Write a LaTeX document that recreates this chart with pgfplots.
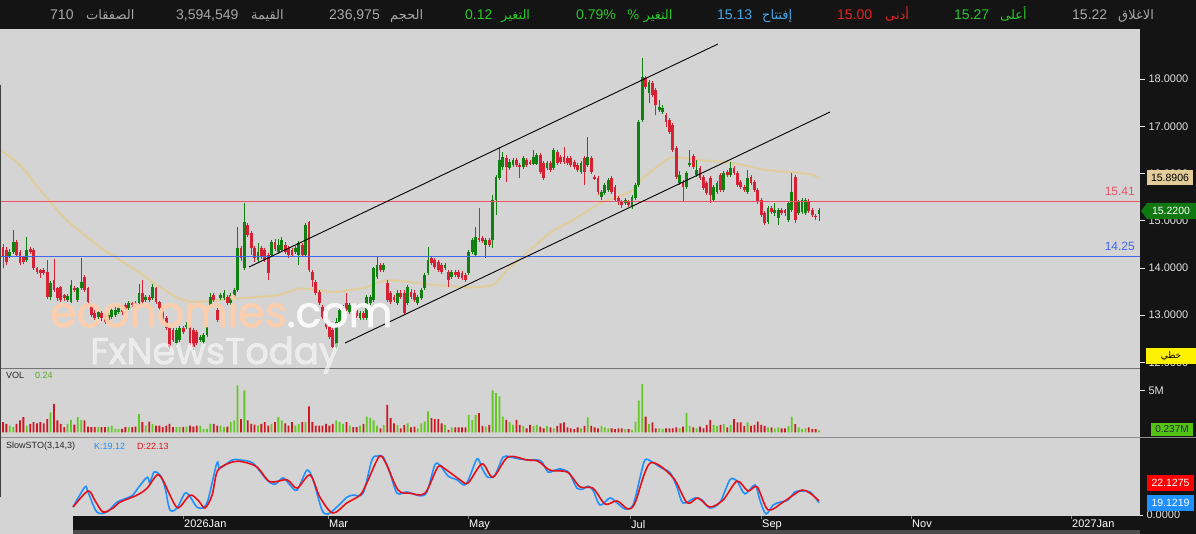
\documentclass[border=0pt]{standalone}
\usepackage{fontspec}
\usepackage{pgfplots}
\usepackage{pgfplotstable}
\pgfplotsset{compat=1.18}
\setmainfont{Liberation Sans}
\newfontfamily\arabicfont[Script=Arabic]{DejaVu Sans}
\newfontfamily\wmfont[FakeBold=1.5]{Poppins}
\TeXXeTstate=1
\definecolor{panel}{RGB}{212,212,212}
\definecolor{cgreen}{RGB}{16,128,16}
\definecolor{cred}{RGB}{214,32,52}
\definecolor{vgreen}{RGB}{100,200,36}
\definecolor{vred}{RGB}{204,24,32}
\definecolor{ma}{RGB}{226,204,150}
\definecolor{levelred}{RGB}{240,80,100}
\definecolor{hblue}{RGB}{64,104,236}
\definecolor{kblue}{RGB}{30,144,255}
\definecolor{dred}{RGB}{230,16,24}
\definecolor{tgray}{RGB}{168,168,168}
\definecolor{tgreen}{RGB}{40,200,40}
\definecolor{tblue}{RGB}{70,168,232}
\definecolor{tred}{RGB}{226,36,36}
\definecolor{axtxt}{RGB}{226,226,226}
\definecolor{peach}{RGB}{255,206,172}
\definecolor{badgetan}{RGB}{226,204,154}
\definecolor{badgegreen}{RGB}{16,120,16}
\definecolor{volbadge}{RGB}{84,196,20}

\pgfplotstableread{
i o h l c v
0 14.44 14.50 13.99 14.23 1.23
1 14.38 14.45 14.05 14.12 1.03
2 14.25 14.40 14.20 14.33 0.83
3 14.34 14.80 14.30 14.55 0.63
4 14.55 14.60 14.22 14.27 1.03
5 14.33 14.38 14.05 14.10 1.43
6 14.23 14.26 14.08 14.12 1.83
7 14.17 14.65 14.12 14.38 0.83
8 14.40 14.45 14.30 14.34 1.03
9 14.38 14.42 13.95 13.99 1.23
10 13.99 14.02 13.86 13.91 1.10
11 13.95 13.98 13.78 13.89 1.23
12 13.95 13.99 13.84 13.89 1.10
13 13.91 14.17 13.34 13.38 1.60
14 13.38 13.72 13.32 13.68 2.40
15 13.74 14.19 13.49 13.53 3.40
16 13.57 13.60 13.30 13.36 1.43
17 13.59 13.62 13.28 13.32 1.03
18 13.42 13.45 13.30 13.36 0.63
19 13.32 13.44 13.28 13.40 1.03
20 13.28 13.74 13.25 13.64 1.50
21 13.57 13.62 13.48 13.53 0.95
22 13.32 13.60 13.28 13.57 1.83
23 13.57 14.21 13.53 13.70 1.50
24 13.80 13.85 13.48 13.53 1.43
25 13.57 13.60 13.22 13.28 0.70
26 13.21 13.25 12.95 13.00 0.63
27 13.04 13.10 12.90 12.94 0.63
28 12.96 13.10 12.92 13.06 0.63
29 13.04 13.08 12.88 12.94 0.63
30 13.00 13.04 12.80 12.85 0.63
31 12.85 13.05 12.82 13.00 0.70
32 12.96 13.15 12.92 13.11 0.83
33 13.00 13.18 12.96 13.11 0.44
34 13.06 13.20 13.02 13.15 0.44
35 13.15 13.20 13.00 13.06 0.44
36 13.21 13.25 13.06 13.11 0.63
37 13.15 13.30 13.10 13.25 0.63
38 13.25 13.28 13.17 13.21 0.63
39 13.25 13.30 13.17 13.21 0.70
40 13.25 13.66 13.21 13.47 2.20
41 13.47 13.74 13.24 13.28 1.23
42 13.32 13.42 13.28 13.38 0.83
43 13.38 13.42 13.28 13.32 1.30
44 13.36 13.66 13.32 13.59 1.03
45 13.57 13.60 13.24 13.28 0.83
46 13.28 13.30 13.10 13.15 0.83
47 13.15 13.18 12.85 12.89 0.63
48 12.94 12.98 12.68 12.72 0.83
49 12.72 12.76 12.28 12.32 1.03
50 12.68 12.72 12.42 12.47 0.63
51 12.41 12.72 12.36 12.68 0.63
52 12.47 12.76 12.42 12.72 0.63
53 12.72 12.76 12.60 12.64 0.63
54 12.74 12.85 12.70 12.79 0.70
55 12.72 12.76 12.36 12.41 0.83
56 12.68 12.72 12.26 12.32 0.70
57 12.64 12.68 12.36 12.41 0.83
58 12.47 12.58 12.42 12.53 0.83
59 12.43 12.62 12.38 12.58 0.44
60 12.58 12.79 12.54 12.75 0.44
61 13.21 13.47 13.17 13.38 1.03
62 13.42 13.47 13.28 13.32 1.03
63 13.11 13.15 12.85 12.89 0.83
64 13.36 13.47 13.32 13.42 0.83
65 13.36 13.52 13.32 13.47 0.63
66 13.38 13.42 13.21 13.25 0.70
67 13.25 13.47 13.21 13.42 1.23
68 13.38 13.57 13.34 13.53 1.43
69 13.53 14.86 13.49 14.42 5.60
70 14.42 14.46 14.15 14.21 1.60
71 13.99 15.37 13.95 14.97 5.00
72 14.91 14.95 14.65 14.69 1.43
73 14.74 14.78 14.27 14.42 1.03
74 14.42 14.46 14.12 14.21 0.95
75 14.17 14.52 14.13 14.34 0.83
76 14.42 14.46 14.19 14.23 1.03
77 14.38 14.42 14.12 14.17 1.23
78 14.27 14.31 13.74 13.89 0.83
79 14.27 14.60 14.23 14.55 1.03
80 14.55 14.62 14.36 14.40 1.23
81 14.34 14.62 14.30 14.48 1.83
82 14.38 14.66 14.34 14.59 1.43
83 14.48 14.55 14.30 14.34 1.10
84 14.42 14.46 14.20 14.27 0.83
85 14.38 14.42 14.23 14.27 1.23
86 14.34 14.46 14.30 14.42 0.83
87 14.27 14.57 14.06 14.53 1.03
88 14.48 14.52 14.23 14.27 1.23
89 14.27 14.95 14.23 14.91 1.23
90 14.97 15.00 13.91 13.95 3.10
91 13.91 13.95 13.59 13.74 1.23
92 13.70 13.74 13.42 13.47 0.83
93 13.49 13.53 13.21 13.25 0.83
94 13.17 13.21 12.92 12.96 0.83
95 12.89 12.94 12.70 12.75 1.03
96 12.75 12.79 12.49 12.53 0.83
97 12.68 12.72 12.30 12.32 1.03
98 12.32 12.94 12.28 12.85 1.43
99 12.85 13.15 12.80 13.11 1.23
100 13.06 13.21 13.02 13.17 1.03
101 13.25 13.47 13.06 13.11 1.23
102 13.06 13.25 13.02 13.21 0.83
103 13.21 13.25 13.06 13.11 0.63
104 13.11 13.15 12.94 12.98 0.63
105 12.94 13.08 12.90 13.04 0.83
106 13.04 13.08 12.90 12.94 1.03
107 12.94 13.42 12.90 13.38 1.90
108 13.25 13.42 13.21 13.38 1.75
109 13.32 14.02 13.28 13.99 1.43
110 13.80 14.23 13.76 14.06 0.83
111 14.06 14.10 13.91 13.95 0.50
112 13.95 14.10 13.91 14.06 0.90
113 13.68 13.74 13.28 13.32 3.30
114 13.47 13.50 13.24 13.28 1.70
115 13.38 13.42 13.28 13.32 1.10
116 13.25 13.52 13.21 13.47 0.90
117 13.47 13.52 13.34 13.38 0.50
118 13.47 13.52 13.00 13.04 0.90
119 13.25 13.64 13.21 13.59 1.10
120 13.49 13.55 13.34 13.38 0.60
121 13.47 13.52 13.28 13.32 0.70
122 13.25 13.42 13.21 13.38 0.50
123 13.36 13.57 13.32 13.53 1.10
124 13.57 13.89 13.53 13.85 1.30
125 13.89 14.44 13.85 14.17 2.50
126 14.21 14.25 14.06 14.10 1.70
127 14.17 14.21 13.98 14.02 1.60
128 14.12 14.17 13.91 13.95 1.60
129 14.06 14.10 13.87 13.91 1.10
130 13.99 14.10 13.95 14.06 0.90
131 13.91 13.95 13.59 13.74 0.30
132 13.80 13.95 13.76 13.91 0.60
133 13.91 13.95 13.80 13.85 0.60
134 13.91 13.95 13.76 13.80 0.60
135 13.89 13.93 13.74 13.78 0.60
136 13.85 13.89 13.70 13.74 0.60
137 13.89 14.38 13.85 14.34 2.10
138 14.34 14.63 14.30 14.59 1.50
139 14.27 14.86 14.23 14.65 2.10
140 14.63 15.27 14.55 14.59 2.30
141 14.63 14.67 14.53 14.57 0.80
142 14.48 14.63 14.21 14.59 0.70
143 14.59 14.63 14.44 14.48 0.90
144 14.59 15.54 14.42 15.44 5.00
145 15.44 15.97 15.12 15.92 4.70
146 15.90 16.56 15.86 16.28 4.30
147 16.14 16.45 16.08 16.35 1.90
148 16.33 16.40 15.82 16.14 1.50
149 16.12 16.30 16.07 16.24 1.20
150 16.18 16.33 16.14 16.28 0.90
151 16.28 16.33 16.14 16.18 1.50
152 16.18 16.22 15.90 16.14 0.90
153 16.14 16.37 16.10 16.33 0.80
154 16.28 16.33 16.14 16.18 0.50
155 16.24 16.28 16.17 16.21 0.90
156 16.21 16.50 16.17 16.35 0.80
157 16.21 16.43 16.17 16.39 0.90
158 16.39 16.43 15.99 16.03 0.70
159 16.22 16.26 15.86 15.90 0.50
160 16.12 16.26 16.08 16.22 0.80
161 16.22 16.26 16.03 16.07 0.60
162 16.12 16.54 16.08 16.50 0.50
163 16.45 16.49 16.18 16.22 0.80
164 16.35 16.40 16.20 16.24 1.10
165 16.35 16.56 16.20 16.24 1.20
166 16.33 16.37 16.18 16.22 0.60
167 16.33 16.37 16.14 16.18 0.50
168 16.24 16.28 16.10 16.14 0.40
169 16.18 16.22 16.03 16.07 0.60
170 16.03 16.26 15.99 16.22 0.50
171 16.33 16.37 15.75 16.03 0.80
172 16.18 16.77 16.14 16.35 1.80
173 16.33 16.37 15.99 16.03 0.80
174 15.92 15.97 15.86 15.90 0.60
175 15.90 15.94 15.54 15.61 0.50
176 15.50 15.65 15.44 15.61 0.80
177 15.59 15.80 15.55 15.75 0.60
178 15.65 15.90 15.61 15.86 0.50
179 15.90 15.94 15.57 15.61 0.50
180 15.71 15.75 15.40 15.44 0.40
181 15.48 15.52 15.33 15.40 0.50
182 15.40 15.44 15.27 15.33 0.50
183 15.37 15.48 15.33 15.44 0.40
184 15.40 15.44 15.29 15.33 0.40
185 15.29 15.54 15.24 15.50 0.30
186 15.48 15.80 15.44 15.75 1.30
187 15.75 17.13 15.71 17.09 3.80
188 17.13 18.44 17.09 18.04 5.80
189 18.02 18.06 17.78 17.83 1.90
190 17.70 17.98 17.50 17.94 1.00
191 17.92 17.96 17.62 17.66 1.20
192 17.77 17.81 17.24 17.45 0.50
193 17.34 17.56 17.30 17.41 0.50
194 17.30 17.45 17.26 17.39 0.40
195 17.24 17.28 16.98 17.09 0.50
196 17.13 17.17 16.84 16.88 0.50
197 17.03 17.07 16.46 16.50 0.50
198 16.54 16.58 15.88 15.92 0.60
199 15.80 16.05 15.75 15.97 0.50
200 15.82 15.86 15.40 15.71 0.70
201 15.71 16.05 15.67 16.01 2.30
202 16.18 16.50 16.14 16.22 0.80
203 16.37 16.41 16.10 16.14 0.60
204 15.97 16.28 15.93 16.07 0.50
205 16.11 16.15 15.86 15.90 0.70
206 15.92 15.96 15.65 15.69 0.50
207 15.80 15.84 15.55 15.59 0.90
208 15.90 15.94 15.37 15.54 1.50
209 15.44 15.75 15.40 15.71 0.90
210 15.61 15.84 15.57 15.80 0.80
211 15.97 16.01 15.61 15.65 0.90
212 15.65 16.05 15.61 16.01 1.00
213 16.03 16.07 15.93 15.97 0.60
214 15.97 16.24 15.93 16.12 0.90
215 16.12 16.16 15.97 16.01 1.60
216 16.01 16.05 15.71 15.75 1.20
217 15.82 15.86 15.67 15.71 1.20
218 15.71 15.75 15.61 15.65 0.80
219 15.61 16.07 15.57 15.90 1.20
220 15.92 15.96 15.76 15.80 0.80
221 15.82 15.86 15.61 15.65 0.90
222 15.65 15.69 15.36 15.40 1.30
223 15.44 15.48 15.08 15.12 0.90
224 15.16 15.20 14.91 14.95 0.80
225 14.97 15.31 14.93 15.27 0.60
226 15.27 15.31 15.14 15.18 0.60
227 15.16 15.37 15.10 15.22 0.50
228 15.05 15.27 14.91 15.22 0.60
229 15.22 15.27 15.12 15.16 0.50
230 15.22 15.25 15.10 15.16 0.50
231 15.01 15.41 14.97 15.37 0.80
232 15.22 16.01 15.18 15.61 1.90
233 15.92 15.96 14.95 15.01 1.00
234 15.16 15.44 15.12 15.40 0.60
235 15.18 15.48 15.14 15.44 0.40
236 15.16 15.48 15.12 15.44 0.50
237 15.42 15.46 15.16 15.20 0.60
238 15.22 15.27 15.08 15.12 0.40
239 15.10 15.14 15.01 15.08 0.40
240 15.13 15.27 15.00 15.22 0.24
}\ohlc

\begin{document}
\begin{tikzpicture}[x=1pt,y=1pt]
% backgrounds
\fill[panel] (0,0) rectangle (1196,534);
\fill[black!92] (0,505) rectangle (1196,534);
\fill[black!92] (1140,0) rectangle (1196,505);
\fill[black!92] (73,4) rectangle (1140,18);
\fill[black!70] (73,0) rectangle (1140,4);

% ---------------- price panel ----------------
\begin{scope}[shift={(0pt,166pt)}]
\begin{axis}[at={(0pt,0pt)}, anchor=south west, scale only axis,
  width=1140pt, height=339pt,
  xmin=-0.882, xmax=334.41, ymin=11.878, ymax=19.06,
  axis line style={draw=none}, xtick=\empty,
  ytick={12,13,14,15,16,17,18},
  yticklabels={12.0000,13.0000,14.0000,15.0000,16.0000,17.0000,18.0000},
  ytick pos=right, yticklabel pos=right,
  tick align=outside, major tick length=5pt,
  ytick style={draw=axtxt!80, line width=0.6pt},
  yticklabel style={text=axtxt, font=\fontsize{11}{12}\selectfont}]
\addplot[ma, line width=2.2pt, opacity=0.85, smooth, tension=0.5, forget plot] coordinates {
(-0.88,16.50) (5,16.18) (10.9,15.65) (18.8,15.01) (28.5,14.44) (33.5,14.21) (40.3,13.89)
(46.2,13.59) (51.2,13.38) (55.9,13.28) (66.8,13.34) (80.6,13.42) (87.4,13.56) (97,13.49)
(102,13.53) (107,13.59) (111.8,13.72) (116.8,13.72) (126.5,13.64) (136.5,13.59) (144.1,13.64)
(148.2,13.95) (154.1,14.31) (160.9,14.74) (167.6,15.01) (175.6,15.37) (180.6,15.50)
(185.3,15.65) (188.2,15.90) (192.4,16.14) (196.2,16.33) (200,16.33) (205,16.28) (214.7,16.22)
(224.7,16.07) (234.4,16.01) (238.2,15.97) (240,15.89)};
% wicks
\addplot[draw=none, mark=none, forget plot,
  error bars/.cd, y dir=both, y explicit, error mark=none,
  error bar style={draw=cgreen, line width=0.9pt}]
  table[x=i, y expr={\thisrow{c}<\thisrow{o} ? nan : 0.5*(\thisrow{h}+\thisrow{l})},
        y error expr={0.5*(\thisrow{h}-\thisrow{l})}] {\ohlc};
\addplot[draw=none, mark=none, forget plot,
  error bars/.cd, y dir=both, y explicit, error mark=none,
  error bar style={draw=cred, line width=0.9pt}]
  table[x=i, y expr={\thisrow{c}<\thisrow{o} ? 0.5*(\thisrow{h}+\thisrow{l}) : nan},
        y error expr={0.5*(\thisrow{h}-\thisrow{l})}] {\ohlc};
% bodies
\addplot[draw=none, mark=none, forget plot,
  error bars/.cd, y dir=both, y explicit, error mark=none,
  error bar style={draw=cgreen, line width=2.8pt}]
  table[x=i, y expr={\thisrow{c}<\thisrow{o} ? nan : 0.5*(\thisrow{o}+\thisrow{c})},
        y error expr={max(0.5*abs(\thisrow{c}-\thisrow{o}),0.012)}] {\ohlc};
\addplot[draw=none, mark=none, forget plot,
  error bars/.cd, y dir=both, y explicit, error mark=none,
  error bar style={draw=cred, line width=2.8pt}]
  table[x=i, y expr={\thisrow{c}<\thisrow{o} ? 0.5*(\thisrow{o}+\thisrow{c}) : nan},
        y error expr={max(0.5*abs(\thisrow{c}-\thisrow{o}),0.012)}] {\ohlc};
% level lines
\addplot[draw=hblue, line width=1pt, mark=none, forget plot] coordinates {(-1,14.25) (335,14.25)};
\addplot[draw=levelred, line width=1.5pt, mark=none, forget plot] coordinates {(-1,15.41) (335,15.41)};
% channel
\addplot[black, line width=0.9pt, forget plot] coordinates {(72.35,14.017) (210.29,18.742)};
\addplot[black, line width=0.9pt, forget plot] coordinates {(100.59,12.407) (243.24,17.301)};
\end{axis}
\end{scope}

% ---------------- volume panel ----------------
\begin{scope}[shift={(0pt,97pt)}]
\begin{axis}[at={(0pt,0pt)}, anchor=south west, scale only axis,
  width=1140pt, height=69pt,
  xmin=-0.882, xmax=334.41, ymin=-0.536, ymax=7.68,
  axis line style={draw=none}, xtick=\empty,
  ytick={5}, yticklabels={5M},
  ytick pos=right, yticklabel pos=right,
  tick align=outside, major tick length=5pt,
  ytick style={draw=axtxt!80, line width=0.6pt},
  yticklabel style={text=axtxt, font=\fontsize{11}{12}\selectfont}]
\addplot[ybar, bar width=1.8pt, bar shift=0pt, fill=vgreen, draw=none, forget plot]
  table[x=i, y expr={\thisrow{c}<\thisrow{o} ? nan : \thisrow{v}}] {\ohlc};
\addplot[ybar, bar width=1.8pt, bar shift=0pt, fill=vred, draw=none, forget plot]
  table[x=i, y expr={\thisrow{c}<\thisrow{o} ? \thisrow{v} : nan}] {\ohlc};
\end{axis}
\end{scope}

% ---------------- stochastic panel ----------------
\begin{scope}[shift={(0pt,18pt)}]
\begin{axis}[at={(0pt,0pt)}, anchor=south west, scale only axis,
  width=1140pt, height=79pt,
  xmin=-0.882, xmax=334.41, ymin=-1.5625, ymax=121.875,
  axis line style={draw=none},
  xtick={52.94,95.59,136.76,184.41,222.94,267.06,314.12},
  xticklabels={2026Jan,Mar,May,Jul,Sep,Nov,2027Jan},
  xtick pos=left,
  xticklabel style={anchor=north west, text=white, inner sep=1pt, font=\fontsize{11}{12}\selectfont},
  xtick style={draw=gray, line width=0.6pt},
  ytick={0}, yticklabels={0.0000},
  ytick pos=right, yticklabel pos=right,
  tick align=outside, major tick length=3pt,
  ytick style={draw=axtxt!80, line width=0.6pt},
  yticklabel style={text=axtxt, font=\fontsize{11}{12}\selectfont}]
\addplot[kblue, line width=1.6pt, smooth, tension=0.5] coordinates {
(20.6,12.5) (24.1,43.8) (25,36) (27.6,4.7) (30.6,4.7) (33.5,20) (36.5,26.6) (38.2,31) (39.7,42)
(42.4,59) (43.2,50) (44.4,67) (46.2,62.5) (47.6,44) (49.1,8) (51.2,11) (53.5,34) (55,28.6)
(57,12.5) (58.8,11) (60.3,23.4) (62.9,81) (63.8,73) (67.4,86) (69.7,86) (73.5,81) (77.6,55)
(80,48) (82.4,58) (84.4,47) (86.5,39) (89.4,70) (91.2,55) (93.8,8) (95.6,1.6) (98.2,12.5)
(101.2,28) (103,31) (105.9,34) (108.5,86) (110,92) (111.8,91) (113.8,66) (115.9,34) (118.8,36)
(122.6,30) (124.7,36) (127,78) (128.5,78) (130.9,61) (133.5,55) (136.2,48) (139.4,87.5)
(140.9,73) (142.6,59) (144.7,62.5) (147.1,90.6) (149.1,90.6) (152,87.5) (155,86) (157,86)
(158.5,83) (160.3,67) (161.8,69) (163.8,72) (166.5,66) (168.8,42) (170.6,40.6) (172,45)
(173.5,39) (175.6,15.6) (178.5,26.6) (180.6,18.8) (183,9.4) (185.3,15.6) (187.4,59) (188.8,86)
(190.9,83) (193.2,75) (196.2,66) (198.2,44) (200,18.8) (203.5,26.6) (205.6,23.4) (207.9,11)
(210.9,20) (213.8,55) (215.9,53) (218.2,33) (221.2,47) (222.6,23.4) (224.4,1.6) (226.5,15.6)
(228.5,20) (230.9,23.4) (232.9,36) (235.3,37.5) (237.4,36) (240,19.12)};
\addplot[dred, line width=1.6pt, smooth, tension=0.5] coordinates {
(20.6,12.5) (25,37.5) (27,23) (29.4,4.7) (32.4,11) (34.4,20) (39.4,31) (42.4,42) (45.3,62.5)
(47,55) (49.1,31) (51.5,11) (55,31) (57.4,23) (59.4,11) (61.5,31) (63.2,70) (67.6,83) (70.6,83)
(74.7,75) (78.5,52) (83.5,55) (86.5,42) (90.3,62.5) (93.2,28) (97,3) (101.2,19) (105,31)
(107,50) (110.6,91) (112.6,81) (116.2,39) (119.7,34) (124.1,34) (127.9,75) (130,72) (134.4,55)
(136.8,50) (140.9,80) (144.1,59) (148.5,90.6) (154.1,86) (157.4,84) (160.9,70) (166,67)
(169.7,44) (173.5,42) (177.1,17) (180.6,22) (183.8,9.4) (185.9,19) (190.3,81) (197,59)
(201.2,19) (204.4,26.6) (207.9,12.5) (211.8,23.4) (215.9,53) (219.1,37.5) (221.8,44) (225,8)
(229.4,20) (232.4,31) (235,39) (237.4,34) (240,22.13)};
\end{axis}
\end{scope}

% separators and borders
\draw[black!55, line width=0.8pt] (0,166) -- (1140,166);
\draw[black!45, line width=0.8pt] (0,96.5) -- (1196,96.5);
\draw[black!75, line width=0.8pt] (0.5,449) -- (0.5,37);

% watermark
\node[anchor=base west, inner sep=0pt, text=peach, text opacity=0.95,
  font=\wmfont\fontsize{42.5}{50}\selectfont] at (50,207) {economies\textcolor{white!97!gray}{.com}};
\node[anchor=base west, inner sep=0pt, text=white, text opacity=0.55,
  font=\wmfont\fontsize{37}{40}\selectfont] at (90,170) {FxNewsToday};

% level labels
\node[anchor=east, inner sep=0pt, text=levelred, font=\fontsize{12}{14}\selectfont] at (1135,343) {15.41};
\node[anchor=east, inner sep=0pt, text=hblue, font=\fontsize{12}{14}\selectfont] at (1135,288) {14.25};

% panel titles
\begin{scope}[every node/.style={anchor=west, inner sep=0pt, font=\fontsize{9}{10}\selectfont}]
\node[text=black!85] at (6,159) {VOL};
\node[text=vgreen!85!black] at (35,159) {0.24};
\node[text=black!85] at (6,88) {SlowSTO(3,14,3)};
\node[text=kblue] at (94,88) {K:19.12};
\node[text=dred] at (137,88) {D:22.13};
\end{scope}

% right badges
\fill[badgetan] (1147,349) rectangle (1193,364);
\node[text=black, inner sep=0pt, font=\fontsize{10.5}{12}\selectfont] at (1170,356.5) {15.8906};
\fill[badgegreen] (1141,323) -- (1147,331) -- (1196,331) -- (1196,315) -- (1147,315) -- cycle;
\node[text=white, inner sep=0pt, font=\fontsize{10.5}{12}\selectfont] at (1171,323) {15.2200};
\fill[yellow] (1146,170) rectangle (1196,186);
\node[text=black, inner sep=0pt, font=\arabicfont\fontsize{9}{10}\selectfont] at (1171,178) {\beginR خطي\endR};
\fill[volbadge] (1151,98) rectangle (1193,111);
\node[text=black!85, inner sep=0pt, font=\fontsize{10}{12}\selectfont] at (1172,104.5) {0.237M};
\fill[red] (1147,43) rectangle (1194,59);
\node[text=white, inner sep=0pt, font=\fontsize{10.5}{12}\selectfont] at (1170.5,51) {22.1275};
\fill[kblue] (1147,23) rectangle (1194,39);
\node[text=white, inner sep=0pt, font=\fontsize{10.5}{12}\selectfont] at (1170.5,31) {19.1219};

% top bar
\begin{scope}[every node/.style={anchor=base west, inner sep=0pt, font=\fontsize{14}{16}\selectfont}]
\node[text=tgray] at (50,514) {710};
\node[text=tgray, font=\arabicfont\fontsize{13}{16}\selectfont] at (86,514) {\beginR الصفقات\endR};
\node[text=tgray] at (176,514) {3,594,549};
\node[text=tgray, font=\arabicfont\fontsize{13}{16}\selectfont] at (251,514) {\beginR القيمة\endR};
\node[text=tgray] at (329,514) {236,975};
\node[text=tgray, font=\arabicfont\fontsize{13}{16}\selectfont] at (390,514) {\beginR الحجم\endR};
\node[text=tgreen] at (465,514) {0.12};
\node[text=tgreen, font=\arabicfont\fontsize{13}{16}\selectfont] at (501,514) {\beginR التغير\endR};
\node[text=tgreen] at (576,514) {0.79\%};
\node[text=tgreen, font=\arabicfont\fontsize{13}{16}\selectfont] at (627,514) {\beginR التغير \%\endR};
\node[text=tblue] at (717,514) {15.13};
\node[text=tblue, font=\arabicfont\fontsize{13}{16}\selectfont] at (762,514) {\beginR إفتتاح\endR};
\node[text=tred] at (837,514) {15.00};
\node[text=tred, font=\arabicfont\fontsize{13}{16}\selectfont] at (885,514) {\beginR أدنى\endR};
\node[text=tgreen] at (954,514) {15.27};
\node[text=tgreen, font=\arabicfont\fontsize{13}{16}\selectfont] at (1000,514) {\beginR أعلى\endR};
\node[text=tgray] at (1072,514) {15.22};
\node[text=tgray, font=\arabicfont\fontsize{13}{16}\selectfont] at (1118,514) {\beginR الاغلاق\endR};
\end{scope}
\pgfresetboundingbox
\useasboundingbox (0,0) rectangle (1196,534);
\end{tikzpicture}
\end{document}
